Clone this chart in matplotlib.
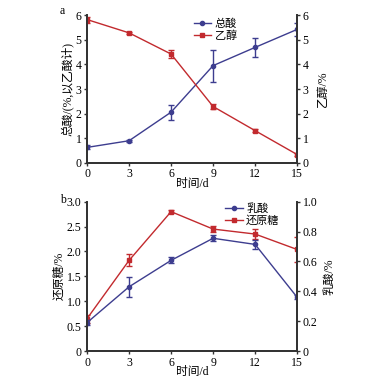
import matplotlib
matplotlib.use("Agg")
import matplotlib.pyplot as plt
from matplotlib.lines import Line2D

plt.rcParams['font.family'] = ['Liberation Serif', 'Noto Sans CJK SC']
plt.rcParams['axes.unicode_minus'] = False

days = [0, 3, 6, 9, 12, 15]
xticks = [0, 3, 6, 9, 12, 15]

# panel a
total_acid = [0.63, 0.90, 2.06, 3.95, 4.69, 5.42]
total_acid_err = [0.08, 0.05, 0.30, 0.65, 0.40, 0.25]
ethanol = [5.82, 5.28, 4.42, 2.29, 1.31, 0.34]
ethanol_err = [0.12, 0.05, 0.17, 0.10, 0.05, 0.05]

# panel b
reducing_sugar = [0.65, 1.82, 2.80, 2.45, 2.35, 2.04]
reducing_sugar_err = [0.08, 0.12, 0.03, 0.06, 0.10, 0.26]
lactic_acid = [0.19, 0.43, 0.607, 0.755, 0.714, 0.36]
lactic_acid_err = [0.017, 0.065, 0.02, 0.02, 0.03, 0.015]

BLUE = "#3d3d8f"
RED = "#c22a2e"
SPINE = "#333333"


def style(ax, twin):
    for a in (ax, twin):
        a.spines["top"].set_visible(False)
        for s in ("left", "right", "bottom"):
            a.spines[s].set_color(SPINE)
            a.spines[s].set_linewidth(1.3)
        a.tick_params(labelsize=8.5, length=2.5, width=1, color=SPINE, pad=1.5)
    ax.set_xlim(0, 15)
    ax.set_xticks(xticks)
    ax.set_xlabel("时间/d", fontsize=8.5, labelpad=-1.5)


def handles():
    return [Line2D([], [], color=BLUE, marker="o", ms=3, lw=1),
            Line2D([], [], color=RED, marker="s", ms=3.5, lw=1)]


fig = plt.figure(figsize=(3.92, 3.78), dpi=100)

# ---- a ----
ax1 = fig.add_axes([0.222, 0.569, 0.536, 0.391])
ax1r = ax1.twinx()
ax1.errorbar(days, total_acid, yerr=total_acid_err, color=BLUE, marker="o", ms=3,
             lw=1, capsize=2, elinewidth=1)
ax1r.errorbar(days, ethanol, yerr=ethanol_err, color=RED, marker="s", ms=3.5,
              lw=1, capsize=2, elinewidth=1)
ax1.set_ylim(0, 6)
ax1r.set_ylim(0, 6)
ax1.set_yticks(range(7))
ax1r.set_yticks(range(7))
ax1.set_ylabel("总酸/(%,以乙酸计)", fontsize=8.5, labelpad=1)
ax1r.set_ylabel("乙醇/%", fontsize=8.5, rotation=90, labelpad=6)
style(ax1, ax1r)
ax1.legend(handles(), ["总酸", "乙醇"], loc="upper left", bbox_to_anchor=(0.47, 1.03),
           frameon=False, fontsize=8, handlelength=1.6, handletextpad=0.3,
           labelspacing=0.1, borderpad=0.2)
fig.text(0.153, 0.963, "a", fontsize=8.5)

# ---- b ----
ax2 = fig.add_axes([0.222, 0.0714, 0.536, 0.395])
ax2r = ax2.twinx()
ax2r.errorbar(days, lactic_acid, yerr=lactic_acid_err, color=BLUE, marker="o", ms=3,
              lw=1, capsize=2, elinewidth=1)
ax2.errorbar(days, reducing_sugar, yerr=reducing_sugar_err, color=RED, marker="s", ms=3.5,
             lw=1, capsize=2, elinewidth=1)
ax2.set_ylim(0, 3.0)
ax2r.set_ylim(0, 1.0)
ax2.set_yticks([0, 0.5, 1.0, 1.5, 2.0, 2.5, 3.0])
ax2.set_yticklabels(["0", "0.5", "1.0", "1.5", "2.0", "2.5", "3.0"])
ax2r.set_yticks([0, 0.2, 0.4, 0.6, 0.8, 1.0])
ax2r.set_yticklabels(["0", "0.2", "0.4", "0.6", "0.8", "1.0"])
ax2.set_ylabel("还原糖/%", fontsize=8.5, labelpad=1)
ax2r.set_ylabel("乳酸/%", fontsize=8.5, rotation=90, labelpad=4)
style(ax2, ax2r)
ax2.legend(handles(), ["乳酸", "还原糖"], loc="upper left", bbox_to_anchor=(0.62, 1.04),
           frameon=False, fontsize=8, handlelength=1.6, handletextpad=0.3,
           labelspacing=0.1, borderpad=0.2)
fig.text(0.153, 0.463, "b", fontsize=8.5)

fig.savefig("out.png", dpi=100)
